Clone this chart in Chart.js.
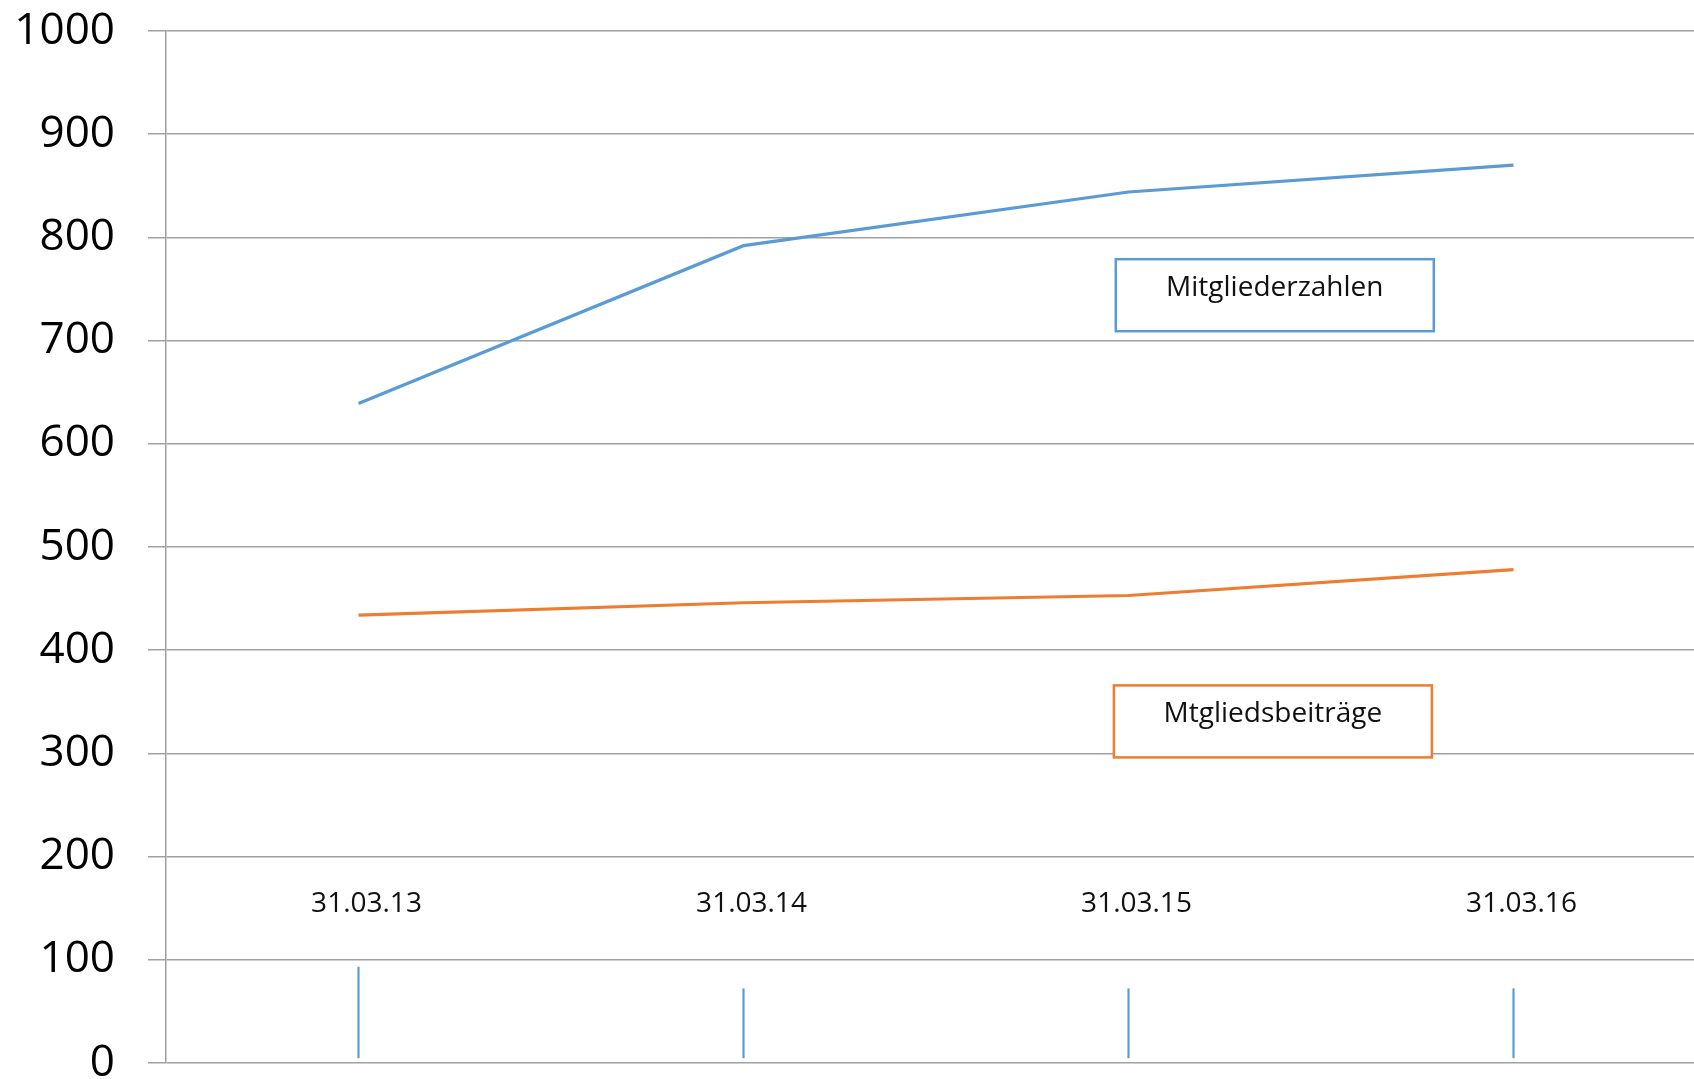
<!DOCTYPE html>
<html>
<head>
<meta charset="utf-8">
<script src="https://cdn.jsdelivr.net/npm/chart.js@4"></script>
<style>
  html, body { margin: 0; padding: 0; background: #fff; overflow: hidden; }
  canvas { display: block; }
</style>
</head>
<body>
<canvas id="mitglieder" width="1706" height="1079"></canvas>
<script>
var stichtage = ['31.03.13', '31.03.14', '31.03.15', '31.03.16'];
var mitgliederzahlen = [639, 792, 844, 870];
var mitgliedsbeitraege = [434, 446, 453, 478];
var markierungen = [[5, 93], [5, 72], [5, 72], [5, 72]];
var yTicks = [0, 100, 200, 300, 400, 500, 600, 700, 800, 900, 1000];

var blau = '#5b9bd5';
var orange = '#ed7d31';

// Stichtag-Beschriftungen und Textfelder direkt ins Diagramm zeichnen
var beschriftung = {
  id: 'beschriftung',
  afterDatasetsDraw: function (chart) {
    var ctx = chart.ctx;
    var x = chart.scales.x;
    var y = chart.scales.y;
    ctx.save();
    ctx.font = '28px "Open Sans", "Noto Sans", sans-serif';
    ctx.fillStyle = '#111';
    ctx.textAlign = 'center';
    ctx.textBaseline = 'middle';
    stichtage.forEach(function (t, i) {
      ctx.fillText(t, x.getPixelForValue(i) + 8, y.getPixelForValue(154));
    });

    var felder = [
      { text: 'Mitgliederzahlen', farbe: blau, pos: 2.38, wert: 744 },
      { text: 'Mtgliedsbeiträge', farbe: orange, pos: 2.375, wert: 331 }
    ];
    felder.forEach(function (f) {
      var cx = x.getPixelForValue(f.pos);
      var cy = y.getPixelForValue(f.wert);
      var w = 318, h = 72;
      ctx.fillStyle = '#fff';
      ctx.fillRect(cx - w / 2, cy - h / 2, w, h);
      ctx.lineWidth = 2.5;
      ctx.strokeStyle = f.farbe;
      ctx.strokeRect(cx - w / 2, cy - h / 2, w, h);
      ctx.fillStyle = '#111';
      ctx.fillText(f.text, cx, cy - 7);
    });
    ctx.restore();
  }
};

var ctx = document.getElementById('mitglieder').getContext('2d');
var chart = new Chart(ctx, {
  type: 'line',
  data: {
    labels: stichtage,
    datasets: [{
      label: 'Mitgliederzahlen',
      data: mitgliederzahlen,
      borderColor: blau,
      borderWidth: 3.2,
      pointRadius: 0,
      tension: 0
    }, {
      label: 'Mtgliedsbeiträge',
      data: mitgliedsbeitraege,
      borderColor: orange,
      borderWidth: 3.2,
      pointRadius: 0,
      tension: 0
    }, {
      type: 'bar',
      label: 'Markierung',
      data: markierungen,
      backgroundColor: blau,
      barThickness: 1.5
    }]
  },
  options: {
    responsive: false,
    devicePixelRatio: 1,
    animation: false,
    layout: { padding: { top: 31, right: 0, bottom: 16, left: 0 } },
    plugins: {
      legend: { display: false },
      tooltip: { enabled: false }
    },
    scales: {
      x: {
        display: false,
        offset: true
      },
      y: {
        min: 0,
        max: 1000,
        afterBuildTicks: function (scale) {
          scale.ticks = yTicks.map(function (v) { return { value: v }; });
        },
        afterFit: function (scale) {
          scale.width = 166;
          scale.paddingTop = 0;
          scale.paddingBottom = 0;
        },
        border: { color: '#a0a0a0', width: 1.5 },
        grid: { color: '#a0a0a0', lineWidth: 1.5, tickLength: 18 },
        ticks: {
          padding: 33,
          color: '#000',
          font: { family: '"Open Sans", "Noto Sans", sans-serif', size: 44 },
          callback: function (v) { return String(v); }
        }
      }
    }
  },
  plugins: [beschriftung]
});
</script>
</body>
</html>
